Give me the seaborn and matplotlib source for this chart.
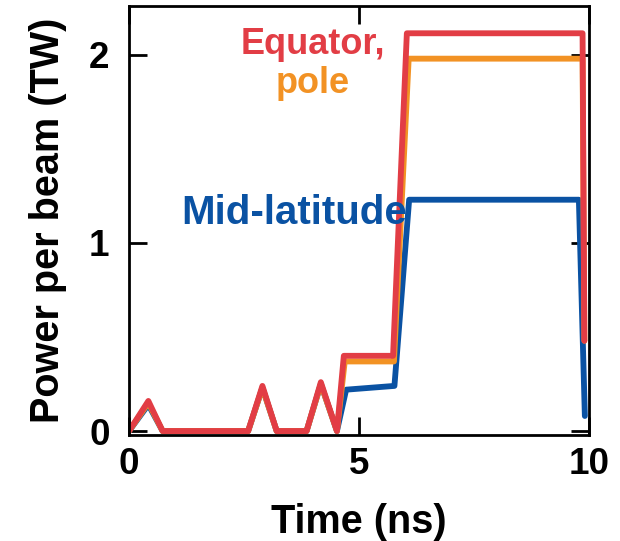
import matplotlib
matplotlib.use("Agg")
import matplotlib.pyplot as plt
import seaborn as sns
import pandas as pd

# ---- data ----
t_mid = [0, 0.42, 0.73, 2.59, 2.90, 3.21, 3.86, 4.17, 4.52, 4.72, 5.77, 6.09, 9.78, 9.91]
p_mid = [0, 0.14, 0, 0, 0.23, 0, 0, 0.25, 0, 0.22, 0.24, 1.23, 1.23, 0.08]

t_pole = [0, 0.42, 0.73, 2.59, 2.90, 3.21, 3.86, 4.17, 4.52, 4.69, 5.76, 6.08, 9.86, 9.90]
p_pole = [0, 0.15, 0, 0, 0.23, 0, 0, 0.25, 0, 0.37, 0.37, 1.98, 1.98, 0.48]

t_eq = [0, 0.42, 0.73, 2.59, 2.90, 3.21, 3.86, 4.17, 4.52, 4.67, 5.74, 6.04, 9.86, 9.90]
p_eq = [0, 0.16, 0, 0, 0.24, 0, 0, 0.26, 0, 0.40, 0.40, 2.115, 2.115, 0.48]

series_names = ["Mid-latitude", "pole", "Equator"]
x_ticks = [0, 5, 10]
y_ticks = [0, 1, 2]

colors = {"Mid-latitude": "#0A52A3", "pole": "#F29224", "Equator": "#E23D45"}

frames = []
for name, t, p in zip(series_names, [t_mid, t_pole, t_eq], [p_mid, p_pole, p_eq]):
    frames.append(pd.DataFrame({"time": t, "power": p, "series": name,
                                "order": range(len(t))}))
df = pd.concat(frames, ignore_index=True)

sns.set_theme(style="ticks")
plt.rcParams["font.family"] = ["Liberation Sans", "DejaVu Sans"]
plt.rcParams["font.weight"] = "bold"
plt.rcParams["text.color"] = "black"
plt.rcParams["axes.labelcolor"] = "black"

fig = plt.figure(figsize=(6.2, 5.41), dpi=100)
ax = fig.add_axes([0.2081, 0.1963, 0.7419, 0.7926])

for name in series_names:
    sub = df[df["series"] == name]
    sns.lineplot(data=sub, x="time", y="power", sort=False, estimator=None,
                 color=colors[name], linewidth=4.2, ax=ax, legend=False)

ax.set_xlim(0, 10)
ax.set_ylim(-0.02, 2.26)
ax.set_xticks(x_ticks)
ax.set_yticks(y_ticks)
ax.set_xticklabels([str(v) for v in x_ticks])
ax.set_yticklabels([str(v) for v in y_ticks])

for s in ax.spines.values():
    s.set_visible(True)
    s.set_linewidth(2.0)
    s.set_color("black")

ax.tick_params(axis="both", which="both", direction="in", length=13, width=2.0,
               top=True, right=True, labelsize=26.5, colors="black")
ax.tick_params(axis="x", pad=9)
ax.tick_params(axis="y", pad=14)
for lab in ax.get_xticklabels() + ax.get_yticklabels():
    lab.set_fontweight("bold")

ax.set_xlabel("Time (ns)", fontsize=28.5, fontweight="bold", labelpad=15, color="black")
ax.set_ylabel("Power per beam (TW)", fontsize=28.5, fontweight="bold", labelpad=16,
              color="black")

ax.text(4.0, 2.005, "Equator,", color=colors["Equator"], fontsize=26,
        fontweight="bold", ha="center", va="baseline")
ax.text(4.0, 1.795, "pole", color=colors["pole"], fontsize=26,
        fontweight="bold", ha="center", va="baseline")
ax.text(3.58, 1.10, "Mid-latitude", color=colors["Mid-latitude"], fontsize=29,
        fontweight="bold", ha="center", va="baseline")

fig.savefig("out.png", dpi=100)
